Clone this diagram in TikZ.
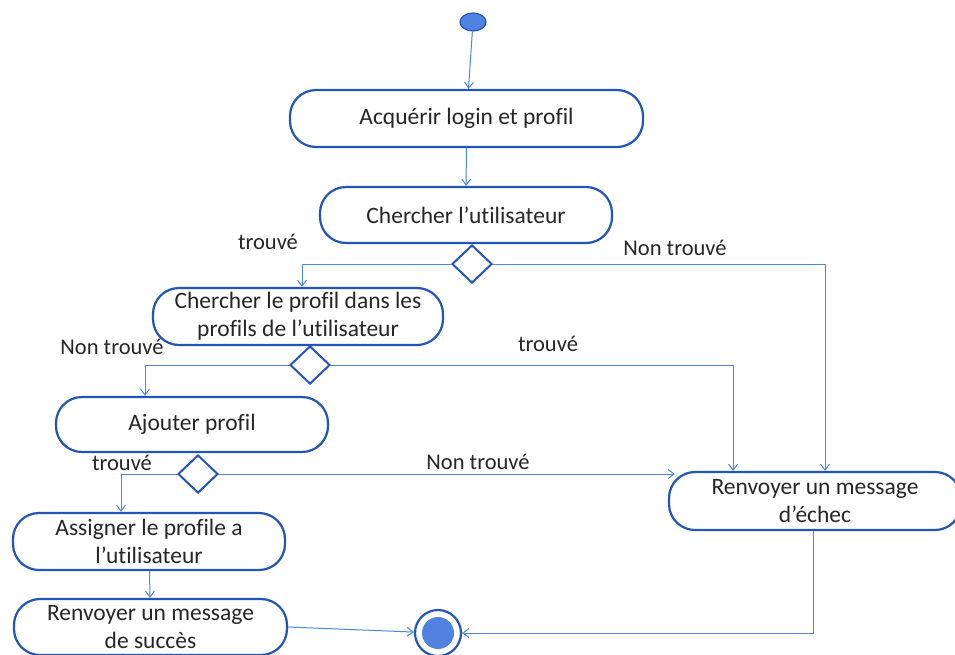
\documentclass[tikz,border=0pt]{standalone}
\usepackage{fontspec}
\setmainfont[Ligatures=NoCommon]{Carlito}
\usetikzlibrary{arrows.meta,shapes.geometric,calc}
\definecolor{boxblue}{RGB}{35,85,185}
\definecolor{linkblue}{RGB}{75,135,220}
\definecolor{fillblue}{RGB}{80,130,225}
\begin{document}
\begin{tikzpicture}[x=1pt,y=-1pt,
 act/.style={draw=boxblue, line width=2.2pt, rounded corners=26pt, inner sep=0pt, align=center, font=\fontsize{23.5}{28}\selectfont, text=black!85},
 dec/.style={draw=boxblue, line width=2pt, diamond, aspect=1.05, minimum width=40pt, minimum height=38pt, inner sep=0pt},
 flow/.style={draw=linkblue, line width=1pt, -{Straight Barb[length=6pt,width=9pt]}},
 lbl/.style={font=\fontsize{22.5}{24}\selectfont, text=black!85}
]
\fill[white] (0,0) rectangle (955,654);
\useasboundingbox (0,0) rectangle (955,654);

\node[ellipse, draw=boxblue, fill=fillblue, line width=1.2pt, minimum width=26pt, minimum height=18pt, inner sep=0pt] (start) at (473,22) {};
\node[act, minimum width=353pt, minimum height=57pt] (acq) at (466.5,118.5) {Acquérir login et profil};
\node[act, minimum width=292pt, minimum height=56pt] (cher) at (466,215) {Chercher l’utilisateur};
\node[dec] (d1) at (472,264) {};
\node[act, minimum width=290pt, minimum height=57pt] (prof) at (298,316.5) {Chercher le profil dans les\\profils de l’utilisateur};
\node[dec] (d2) at (310,365) {};
\node[act, minimum width=272pt, minimum height=55pt] (ajout) at (192,424.5) {Ajouter profil};
\node[dec] (d3) at (198,474) {};
\node[act, minimum width=272pt, minimum height=57pt] (assign) at (149,541.5) {Assigner le profile a\\l’utilisateur};
\node[act, minimum width=273pt, minimum height=56pt] (succ) at (150.5,627) {Renvoyer un message\\de succès};
\node[act, minimum width=292pt, minimum height=58pt] (echec) at (815,501) {Renvoyer un message\\d’échec};
\node[circle, draw=boxblue, line width=2.2pt, fill=white, minimum size=46pt, inner sep=0pt] (endn) at (438,633) {};
\fill[fillblue] (endn.center) circle (16pt);

\node[lbl] (l1) at (268,242) {trouvé};
\node[lbl] (l2) at (675,248) {Non trouvé};
\node[lbl] (l3) at (112,347) {Non trouvé};
\node[lbl] (l4) at (548,344) {trouvé};
\node[lbl] (l5) at (122,463) {trouvé};
\node[lbl] (l6) at (478,462) {Non trouvé};

\draw[flow] (start) -- (acq);
\draw[flow] (acq) -- (cher);
\draw[flow] (d1.west) -| ([xshift=4pt]prof.north);
\draw[flow] (d1.east) -| ([xshift=10pt]echec.north);
\draw[flow] (d2.west) -| ([xshift=-47pt]ajout.north);
\draw[flow] (d2.east) -| ([xshift=-82pt]echec.north);
\draw[flow] (d3.west) -| ([xshift=-28pt]assign.north);
\coordinate (e3) at ($(d3.east -| echec.west)+(7,0)$);
\draw[flow] (d3.east) -- (e3);
\draw[flow] (assign) -- (succ);
\draw[flow] (succ.east) -- (endn);
\draw[flow] ([xshift=-2pt]echec.south) |- (endn.east);
\end{tikzpicture}
\end{document}
